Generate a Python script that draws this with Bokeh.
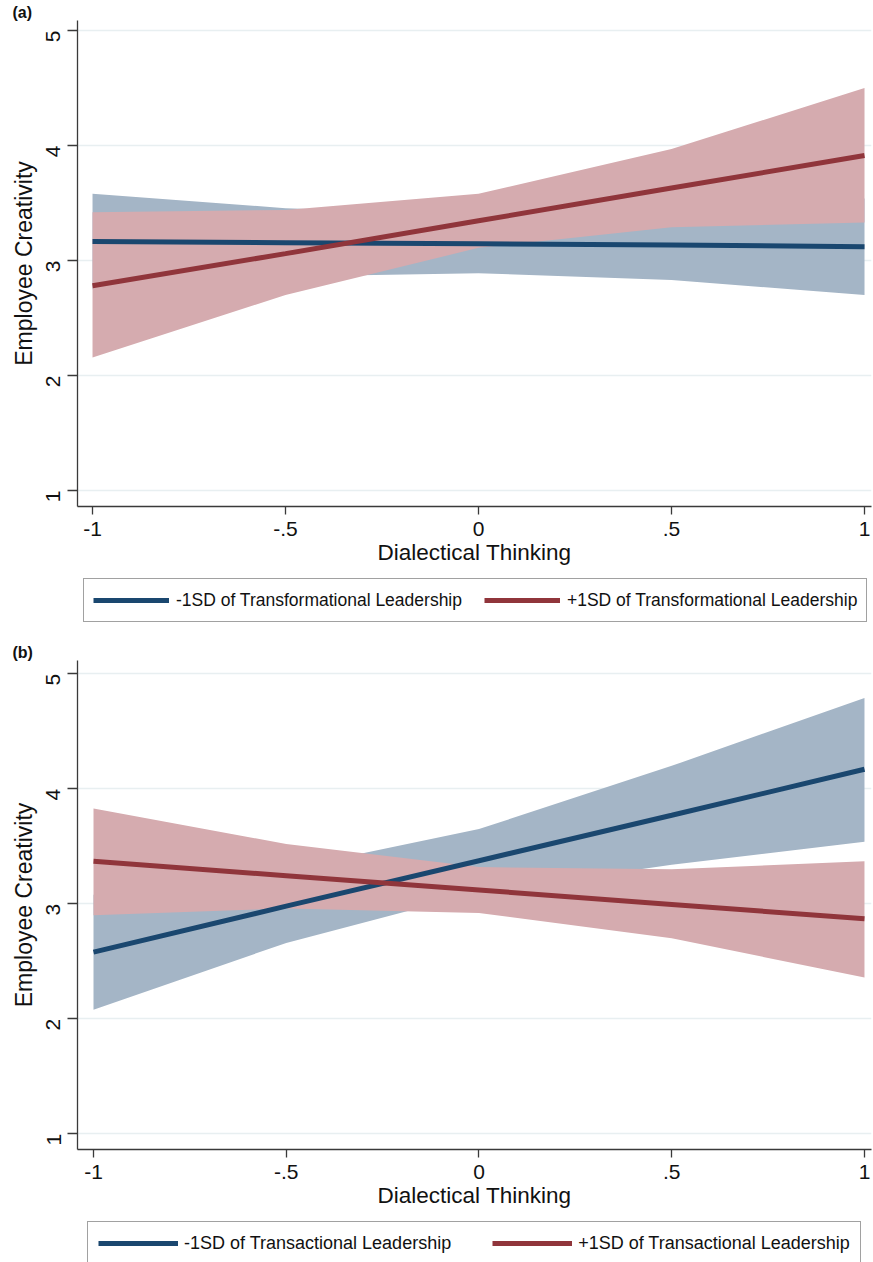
import math
from bokeh.plotting import figure
from bokeh.layouts import column
from bokeh.models import Range1d, Legend, LegendItem, FixedTicker
from bokeh.embed import file_html
from bokeh.resources import INLINE

# ---------------- data ----------------
x_vals = [-1.0, -0.5, 0.0, 0.5, 1.0]
x_ticks = [-1, -0.5, 0, 0.5, 1]
x_tick_labels = ["-1", "-.5", "0", ".5", "1"]
y_ticks = [1, 2, 3, 4, 5]

# Panel (a): Transformational leadership
a_labels = ["-1SD of Transformational Leadership", "+1SD of Transformational Leadership"]
a_low_mean = [3.165, 3.155, 3.145, 3.135, 3.12]
a_low_lower = [2.75, 2.86, 2.89, 2.83, 2.70]
a_low_upper = [3.58, 3.455, 3.40, 3.435, 3.54]
a_high_mean = [2.78, 3.06, 3.345, 3.63, 3.913]
a_high_lower = [2.157, 2.70, 3.11, 3.29, 3.33]
a_high_upper = [3.42, 3.44, 3.58, 3.97, 4.50]

# Panel (b): Transactional leadership
b_labels = ["-1SD of Transactional Leadership", "+1SD of Transactional Leadership"]
b_low_mean = [2.58, 2.98, 3.375, 3.77, 4.17]
b_low_lower = [2.08, 2.66, 3.10, 3.34, 3.54]
b_low_upper = [3.08, 3.30, 3.65, 4.20, 4.79]
b_high_mean = [3.37, 3.245, 3.12, 2.995, 2.87]
b_high_lower = [2.90, 2.96, 2.92, 2.70, 2.36]
b_high_upper = [3.83, 3.52, 3.32, 3.30, 3.37]

# ---------------- style ----------------
BLUE = "#1a476f"
RED = "#90353b"
BAND_BLUE = "#a4b5c6"
BAND_RED = "#d5abaf"
GRID = "#e8eff1"
AXIS = "#3a3a3a"
FONT = "Liberation Sans"
TXT = "#111111"
W = 873
MB_LEFT = 77


def make_panel(tag, lo_mean, lo_lower, lo_upper, hi_mean, hi_lower, hi_upper,
               height, xr, yr, mb_top, mb_bottom):
    p = figure(width=W, height=height, x_range=Range1d(*xr), y_range=Range1d(*yr),
               output_backend="svg", toolbar_location=None,
               min_border_left=MB_LEFT, min_border_right=2,
               min_border_top=mb_top, min_border_bottom=mb_bottom)
    p.outline_line_color = None
    p.background_fill_color = "white"
    p.border_fill_color = "white"

    p.varea(x=x_vals, y1=lo_lower, y2=lo_upper, fill_color=BAND_BLUE)
    p.varea(x=x_vals, y1=hi_lower, y2=hi_upper, fill_color=BAND_RED)
    p.line(x_vals, lo_mean, line_color=BLUE, line_width=5)
    p.line(x_vals, hi_mean, line_color=RED, line_width=5)

    # panel tag as title
    p.title.text = tag
    p.title.align = "left"
    p.title.offset = -65
    p.title.standoff = 0
    p.title.text_font = FONT
    p.title.text_font_size = "16px"
    p.title.text_font_style = "bold"
    p.title.text_color = TXT

    # grids
    p.xgrid.visible = False
    p.ygrid.ticker = FixedTicker(ticks=y_ticks)
    p.ygrid.grid_line_color = GRID
    p.ygrid.grid_line_width = 1.3

    # x axis
    xa = p.xaxis[0]
    xa.ticker = FixedTicker(ticks=x_ticks)
    xa.major_label_overrides = {t: s for t, s in zip(x_ticks, x_tick_labels)}
    xa.minor_tick_line_color = None
    xa.major_tick_out = 8
    xa.major_tick_in = 0
    xa.axis_line_color = AXIS
    xa.major_tick_line_color = AXIS
    xa.axis_line_width = 1.3
    xa.major_tick_line_width = 1.3
    xa.major_label_text_font = FONT
    xa.major_label_text_font_size = "21px"
    xa.major_label_text_color = TXT
    xa.major_label_standoff = 7
    xa.axis_label = "Dialectical Thinking"
    xa.axis_label_text_font = FONT
    xa.axis_label_text_font_size = "22.5px"
    xa.axis_label_text_font_style = "normal"
    xa.axis_label_text_color = TXT
    xa.axis_label_standoff = 1

    # y axis
    ya = p.yaxis[0]
    ya.ticker = FixedTicker(ticks=y_ticks)
    ya.minor_tick_line_color = None
    ya.major_tick_out = 10
    ya.major_tick_in = 0
    ya.axis_line_color = AXIS
    ya.major_tick_line_color = AXIS
    ya.axis_line_width = 1.3
    ya.major_tick_line_width = 1.3
    ya.major_label_orientation = math.pi / 2
    ya.major_label_text_font = FONT
    ya.major_label_text_font_size = "21px"
    ya.major_label_text_color = TXT
    ya.major_label_standoff = 14
    ya.axis_label = "Employee Creativity"
    ya.axis_label_text_font = FONT
    ya.axis_label_text_font_size = "23px"
    ya.axis_label_text_font_style = "normal"
    ya.axis_label_text_color = TXT
    ya.axis_label_standoff = 0
    return p


def make_legend(labels, lo_mean, hi_mean, height, loc, pad, glyph_w, glyph_h,
                standoff, spacing, font):
    # The key lines reuse the panel's series but sit outside this strip's view,
    # so only the legend (a box under the panel) is visible.
    q = figure(width=W, height=height, output_backend="svg", toolbar_location=None,
               x_axis_type=None, y_axis_type=None,
               x_range=Range1d(-1.04, 1.02), y_range=Range1d(10, 11),
               min_border_left=MB_LEFT, min_border_right=2,
               min_border_top=0, min_border_bottom=0)
    q.outline_line_color = None
    q.grid.visible = False
    q.background_fill_color = "white"
    q.border_fill_color = "white"
    r_lo = q.line(x_vals, lo_mean, line_color=BLUE, line_width=5)
    r_hi = q.line(x_vals, hi_mean, line_color=RED, line_width=5)
    legend = Legend(items=[LegendItem(label=labels[0], renderers=[r_lo]),
                           LegendItem(label=labels[1], renderers=[r_hi])],
                    orientation="horizontal", location=loc,
                    padding=pad, glyph_width=glyph_w, glyph_height=glyph_h,
                    label_standoff=standoff, spacing=spacing,
                    label_text_font=FONT, label_text_font_size=font,
                    label_text_color=TXT,
                    border_line_color="#444444", border_line_width=1.3,
                    background_fill_color="white", background_fill_alpha=1.0,
                    margin=0)
    q.add_layout(legend, "center")
    return q


pa = make_panel("(a)", a_low_mean, a_low_lower, a_low_upper,
                a_high_mean, a_high_lower, a_high_upper,
                height=575, xr=(-1.0389, 1.0181), yr=(0.861, 5.087),
                mb_top=20, mb_bottom=69)
la = make_legend(a_labels, a_low_mean, a_high_mean, height=65, loc=(6, 18),
                 pad=9, glyph_w=76, glyph_h=24, standoff=7, spacing=22, font="17.5px")

pb = make_panel("(b)", b_low_mean, b_low_lower, b_low_upper,
                b_high_mean, b_high_lower, b_high_upper,
                height=578, xr=(-1.0415, 1.0182), yr=(0.864, 5.116),
                mb_top=20, mb_bottom=69)
lb = make_legend(b_labels, b_low_mean, b_high_mean, height=44, loc=(10, -3),
                 pad=10, glyph_w=80, glyph_h=22, standoff=6, spacing=41, font="18px")

layout = column(pa, la, pb, lb, spacing=0)
open("out.html", "w").write(file_html(layout, INLINE))
